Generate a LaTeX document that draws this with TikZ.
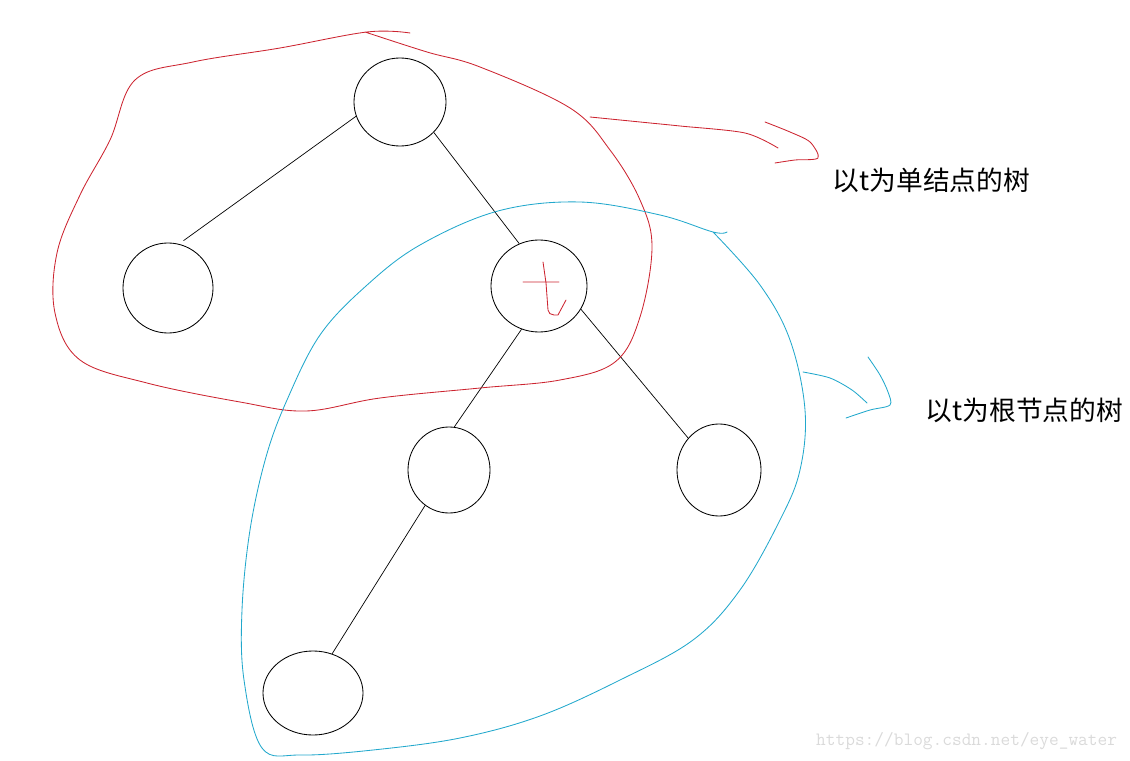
\documentclass[tikz,border=0pt]{standalone}
\usepackage{fontspec}
\newfontfamily\cjk{Noto Sans CJK SC}
\usepackage{tikz}
\usetikzlibrary{shapes.geometric}
\definecolor{loopred}{RGB}{204,36,48}
\definecolor{loopblue}{RGB}{34,168,204}
\definecolor{markgray}{RGB}{218,218,218}

\begin{document}
\begin{tikzpicture}[x=0.025cm,y=-0.025cm,
  vertex/.style={draw,ellipse,inner sep=0pt,line width=0.6pt},
  label/.style={anchor=west,font=\cjk\fontsize{19}{22}\selectfont},
  hand/.style={line width=0.6pt,line join=round,line cap=round}]
  \useasboundingbox (0,0) rectangle (1130,761);
  \node[vertex,minimum width=2.3cm,minimum height=2.2cm]    (root)   at (400,102) {};
  \node[vertex,minimum width=2.25cm,minimum height=2.25cm]  (left)   at (168,288) {};
  \node[vertex,minimum width=2.4cm,minimum height=2.3cm]    (t)      at (539,286) {};
  \node[vertex,minimum width=2.05cm,minimum height=2.15cm]  (tleft)  at (449,470) {};
  \node[vertex,minimum width=2.1cm,minimum height=2.3cm]    (tright) at (719,470) {};
  \node[vertex,minimum width=2.5cm,minimum height=2.1cm]    (leaf)   at (313,693) {};
  \path[draw,line width=0.5pt]
  (root.198)  edge [shorten >=4pt] (left.76)
  (root.318)  edge (t.115)
  (t.248)     edge (tleft.83)
  (t.331)     edge (tright.134)
  (tleft.236) edge (leaf.64);
  \draw[hand,loopred] (523,282) -- (559,282)
    (543,262) -- (546,283) -- (548,310) to[out=-90,in=180] (554,315) -- (558,315) -- (566,300);
  \draw[hand,loopred] plot[smooth,tension=0.6] coordinates {
    (410,33) (367,32) (280,48) (193,62) (135,80) (110,140) (80,195) (57,253)
    (55,313) (80,360) (147,383) (240,402) (306,411) (380,398) (480,388)
    (560,380) (615,362) (640,317) (652,247) (640,200) (610,150) (570,108)
    (480,67) (427,52) (365,32)};
  \draw[hand,loopred] plot[smooth] coordinates {(590,117) (640,122) (680,126) (745,133) (778,148)};
  \draw[hand,loopred] plot[smooth] coordinates {(765,122) (790,132) (810,142) (818,158) (795,160) (775,163)};
  \draw[hand,loopblue] plot[smooth,tension=0.6] coordinates {
    (727,232) (713,232) (660,215) (580,202) (498,211) (420,245) (366,286)
    (320,335) (287,400) (266,457) (250,530) (242,610) (244,680) (262,748)
    (301,755) (373,750) (460,738) (540,716) (620,680) (693,640) (740,590)
    (780,520) (800,470) (805,410) (790,340) (760,285) (713,232)};
  \draw[hand,loopblue] plot[smooth] coordinates {(803,372) (830,378) (852,390) (867,403)};
  \draw[hand,loopblue] plot[smooth] coordinates {(868,357) (880,375) (888,392) (890,405) (870,410) (846,418)};
  \node[label] (single) at (828,180) {以t为单结点的树};
  \node[label] (rooted) at (921,410) {以t为根节点的树};
  \node[anchor=east,text=markgray,font=\ttfamily\fontsize{13.4}{15}\selectfont]
    (mark) at (1122,741) {https://blog.csdn.net/eye\_water};
\end{tikzpicture}
\end{document}
